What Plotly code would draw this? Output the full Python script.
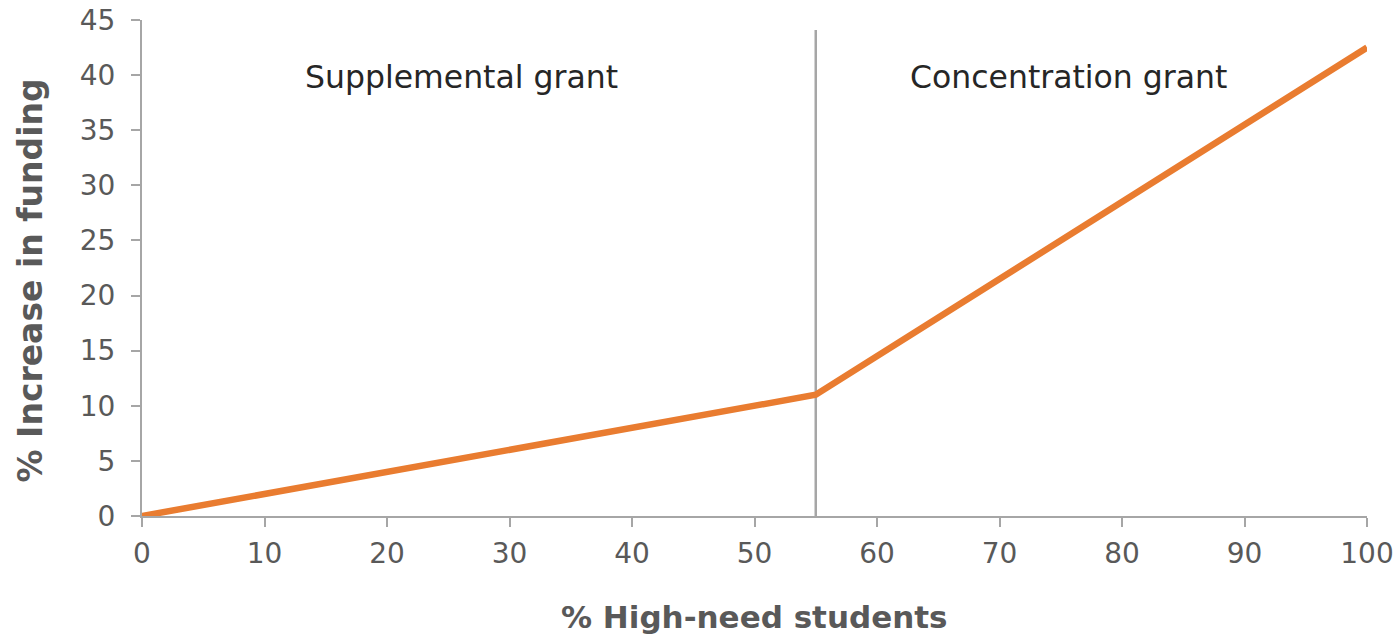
import plotly.graph_objects as go

# Funding increase as a function of the share of high-need students
pct_high_need = [0, 55, 100]
pct_increase = [0, 11, 42.5]

threshold = 55
x_ticks = [0, 10, 20, 30, 40, 50, 60, 70, 80, 90, 100]
y_ticks = [0, 5, 10, 15, 20, 25, 30, 35, 40, 45]

region_labels = ["Supplemental grant", "Concentration grant"]
region_label_x = [26.1, 75.6]
region_label_y = 39.8

axis_gray = "#a6a6a6"
text_gray = "#595959"
font_family = "DejaVu Sans, Verdana, sans-serif"

fig = go.Figure()

fig.add_trace(go.Scatter(
    x=pct_high_need,
    y=pct_increase,
    mode="lines",
    line=dict(color="#E97C30", width=6.5),
    hoverinfo="skip",
    showlegend=False,
))

# Threshold divider between the two grant regions
fig.add_shape(
    type="line", xref="x", yref="y",
    x0=threshold, x1=threshold, y0=0, y1=44.1,
    line=dict(color=axis_gray, width=2.5),
    layer="below",
)

for label, lx in zip(region_labels, region_label_x):
    fig.add_annotation(
        x=lx, y=region_label_y, xref="x", yref="y",
        text=label, showarrow=False,
        xanchor="center", yanchor="middle",
        font=dict(family=font_family, size=31.5, color="#262626"),
    )

# Axis titles
fig.add_annotation(
    x=-0.0914, y=0.475, xref="paper", yref="paper",
    text="<b>% Increase in funding</b>", showarrow=False,
    textangle=-90, xanchor="center", yanchor="middle",
    font=dict(family=font_family, size=33, color=text_gray),
)
fig.add_annotation(
    x=0.5, y=-0.2036, xref="paper", yref="paper",
    text="<b>% High-need students</b>", showarrow=False,
    xanchor="center", yanchor="middle",
    font=dict(family=font_family, size=31, color=text_gray),
)

fig.update_xaxes(
    range=[0, 100],
    tickvals=x_ticks,
    ticktext=[str(v) for v in x_ticks],
    showgrid=False, zeroline=False,
    showline=True, linecolor=axis_gray, linewidth=2,
    ticks="outside", ticklen=9, tickwidth=2, tickcolor=axis_gray,
    tickfont=dict(family=font_family, size=28, color=text_gray),
    ticklabelstandoff=2,
    fixedrange=True,
)
fig.update_yaxes(
    range=[0, 45],
    tickvals=y_ticks,
    ticktext=[str(v) for v in y_ticks],
    showgrid=False, zeroline=False,
    showline=True, linecolor=axis_gray, linewidth=2,
    ticks="outside", ticklen=9, tickwidth=2, tickcolor=axis_gray,
    tickfont=dict(family=font_family, size=28, color=text_gray),
    ticklabelstandoff=10,
    fixedrange=True,
)

fig.update_layout(
    width=1397, height=640,
    margin=dict(l=142, r=30, t=20, b=124, autoexpand=False),
    plot_bgcolor="white",
    paper_bgcolor="white",
    showlegend=False,
)

fig.write_html("out.html", config={"displayModeBar": False})
